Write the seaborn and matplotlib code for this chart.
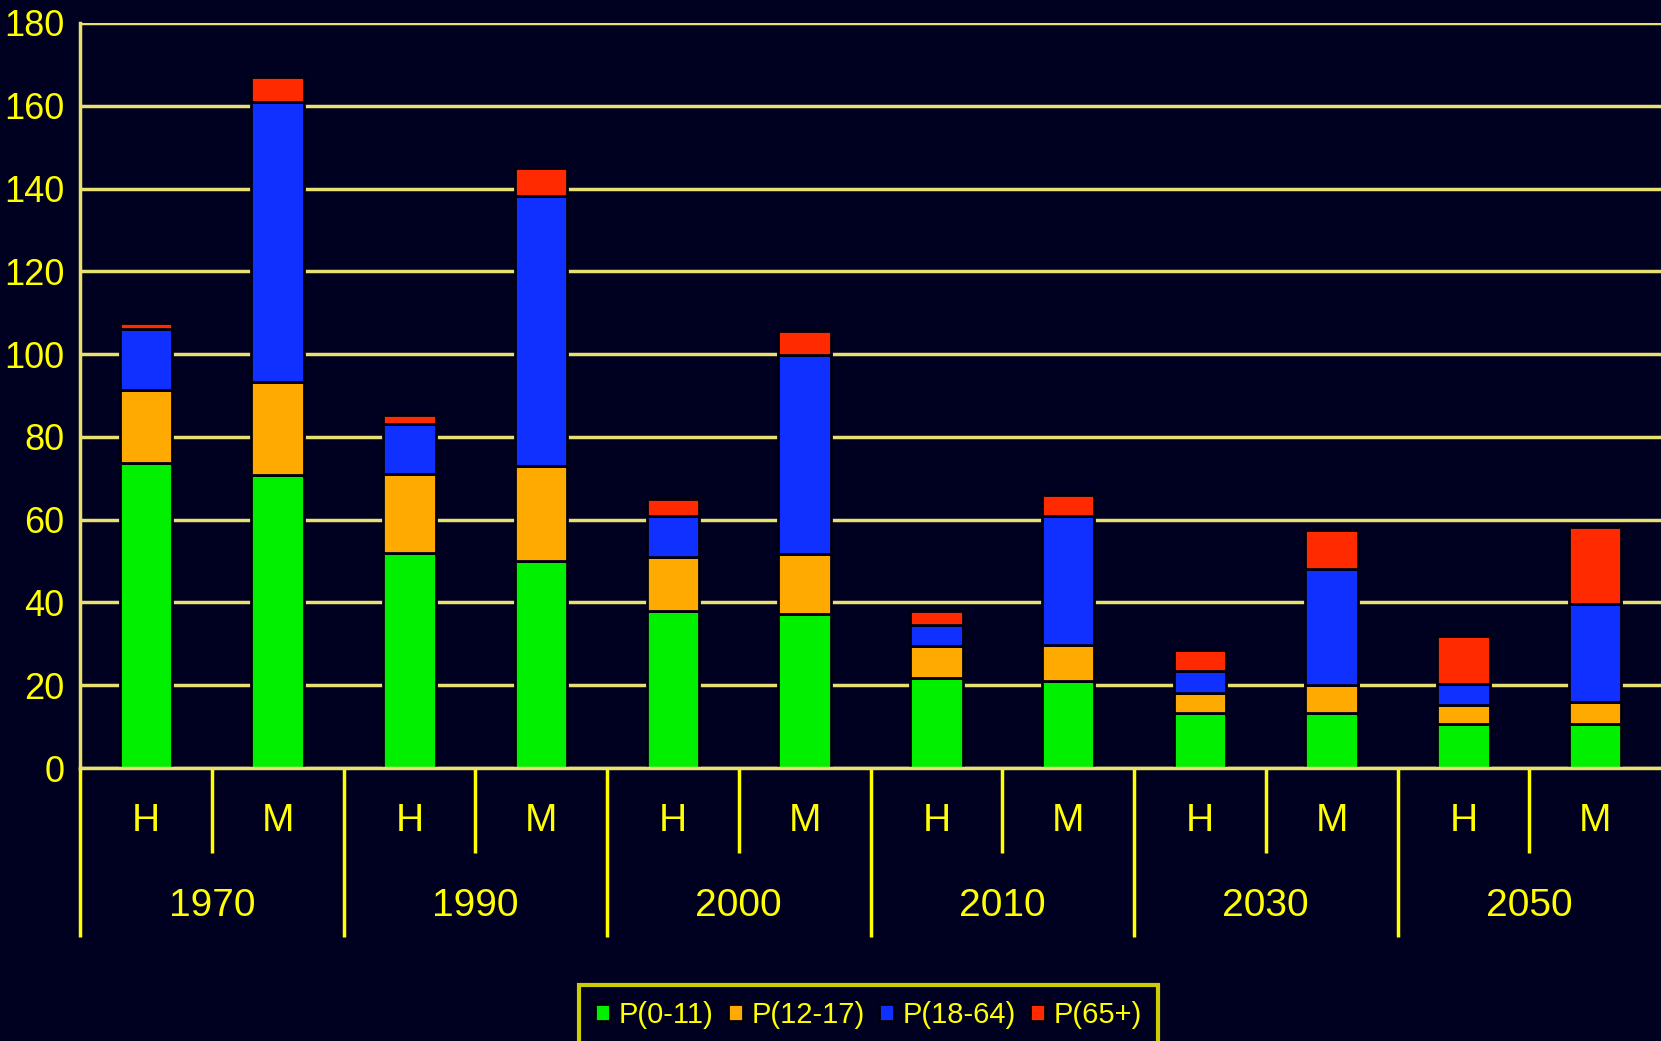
import numpy as np
import pandas as pd
import matplotlib
matplotlib.use("Agg")
import matplotlib.pyplot as plt
import matplotlib.transforms as mtransforms
import seaborn as sns

years = ["1970", "1990", "2000", "2010", "2030", "2050"]
sexes = ["H", "M"]
series_names = ["P(0-11)", "P(12-17)", "P(18-64)", "P(65+)"]
p_0_11 = [73.7, 70.9, 52.0, 49.9, 37.9, 37.1, 21.8, 21.0, 13.3, 13.3, 10.7, 10.7]
p_12_17 = [17.7, 22.3, 19.0, 23.1, 13.1, 14.6, 7.6, 8.7, 4.8, 6.8, 4.5, 5.3]
p_18_64 = [14.6, 67.8, 12.2, 65.2, 10.0, 48.1, 5.2, 31.3, 5.4, 28.0, 5.1, 23.7]
p_65 = [1.5, 6.0, 2.1, 6.7, 4.0, 5.9, 3.3, 5.0, 4.9, 9.3, 11.7, 18.6]
y_ticks = list(range(0, 181, 20))

colors = ["#00f000", "#ffaa00", "#1030ff", "#ff2a00"]
bg = "#000020"
grid_col = "#e8e070"
txt_col = "#ffff00"

sns.set_style("dark")
plt.rcParams["font.family"] = ["Liberation Sans", "DejaVu Sans"]

cats = [f"{y} {s}" for y in years for s in sexes]
df = pd.DataFrame({"cat": cats, "P(0-11)": p_0_11, "P(12-17)": p_12_17,
                   "P(18-64)": p_18_64, "P(65+)": p_65})

fig = plt.figure(figsize=(16.61, 10.41), dpi=100, facecolor=bg)
ax = fig.add_axes([80 / 1661, 1 - 768 / 1041, 1 - 80 / 1661, 745 / 1041])
ax.set_facecolor(bg)

# stacked bars
bottom = np.zeros(len(cats))
for name, c in zip(series_names, colors):
    sns.barplot(data=df, x="cat", y=name, order=cats, bottom=bottom, color=c,
                saturation=1, width=0.4, edgecolor="#000010", linewidth=2,
                errorbar=None, label=name, ax=ax, zorder=3)
    bottom = bottom + df[name].to_numpy()

ax.set_xlim(-0.5, len(cats) - 0.5)
ax.set_ylim(0, 180)
ax.set_yticks(y_ticks)
ax.set_yticklabels([str(t) for t in y_ticks])
ax.yaxis.grid(True, color=grid_col, linewidth=2.5, zorder=0)
ax.xaxis.grid(False)
ax.set_axisbelow(True)
ax.tick_params(axis="y", colors=txt_col, labelsize=26, length=6, width=2, pad=5, direction="out")
ax.tick_params(axis="x", length=0, labelbottom=False)
ax.set_xlabel("")
ax.set_ylabel("")
for side in ["top", "right"]:
    ax.spines[side].set_visible(False)
ax.spines["left"].set_color(grid_col)
ax.spines["left"].set_linewidth(2.5)
ax.spines["bottom"].set_color(grid_col)
ax.spines["bottom"].set_linewidth(2.5)
ax.spines["bottom"].set_zorder(5)

# two-level category axis
trans = mtransforms.blended_transform_factory(ax.transData, ax.transAxes)
for i, cat in enumerate(cats):
    ax.text(i, -0.071, cat.split()[1], transform=trans, ha="center", va="center",
            color=txt_col, fontsize=28)
for j, yr in enumerate(years):
    ax.text(2 * j + 0.5, -0.185, yr, transform=trans, ha="center", va="center",
            color=txt_col, fontsize=28)
for k in range(len(cats)):
    x = k - 0.5
    low = -0.227 if k % 2 == 0 else -0.114
    ax.plot([x, x], [0, low], transform=trans, color=txt_col, linewidth=2.5,
            clip_on=False, solid_capstyle="butt")

# legend
handles, labels = ax.get_legend_handles_labels()
if ax.get_legend() is not None:
    ax.get_legend().remove()
leg = fig.legend(handles[:4], labels[:4], loc="upper center", bbox_to_anchor=(0.523, 0.054),
                 ncol=4, frameon=True, fontsize=21, handlelength=0.5, handleheight=0.5,
                 handletextpad=0.3, columnspacing=0.5, borderpad=0.55, borderaxespad=0,
                 fancybox=False)
leg.get_frame().set_facecolor(bg)
leg.get_frame().set_edgecolor(txt_col)
leg.get_frame().set_linewidth(3)
for t in leg.get_texts():
    t.set_color(txt_col)

fig.savefig("out.png", dpi=100, facecolor=bg)
